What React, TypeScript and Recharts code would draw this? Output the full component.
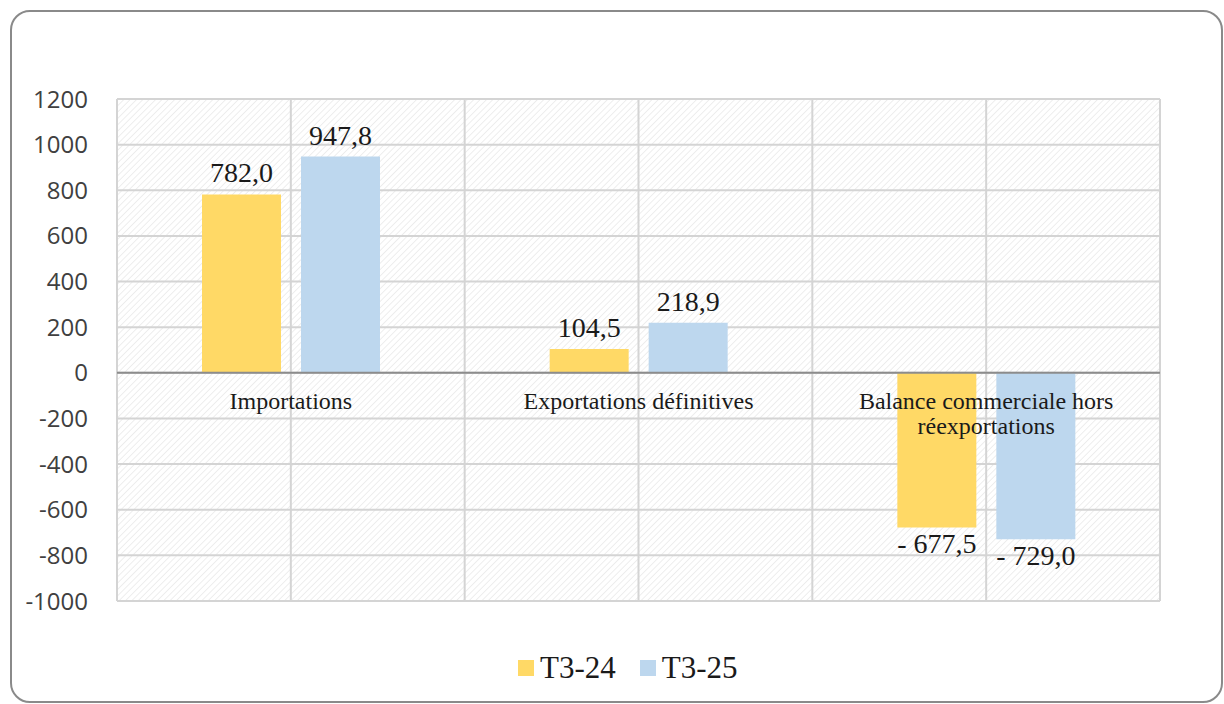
import { Bar, BarChart, CartesianGrid, LabelList, ReferenceLine, XAxis, YAxis } from "recharts";

const categories = ["Importations", "Exportations définitives", "Balance commerciale hors\nréexportations"];
const t324 = [782.0, 104.5, -677.5];
const t325 = [947.8, 218.9, -729.0];
const yTicks = [1200, 1000, 800, 600, 400, 200, 0, -200, -400, -600, -800, -1000];

const series = [
  { key: "t324", name: "T3-24", color: "#FFD966" },
  { key: "t325", name: "T3-25", color: "#BDD7EE" }
];

const data = categories.map((name, i) => ({ name, t324: t324[i], t325: t325[i] }));

const SERIF = "'Liberation Serif', 'Times New Roman', serif";

function fmt(v: number) {
  const s = Math.abs(v).toFixed(1).replace(".", ",");
  return v < 0 ? `- ${s}` : s;
}

function ValueLabel(props: any) {
  const { x, y, width, height, value } = props;
  const top = Math.min(y, y + height);
  const bottom = Math.max(y, y + height);
  const cx = x + width / 2;
  const ty = value < 0 ? bottom + 26 : top - 12;
  return (
    <text x={cx} y={ty} textAnchor="middle" fontFamily={SERIF} fontSize={28} fill="#1a1a1a">
      {fmt(value)}
    </text>
  );
}

function CategoryLabels(props: any) {
  const vb = props.viewBox || {};
  const band = vb.width / categories.length;
  return (
    <g>
      {categories.map((c, i) => (
        <text key={c} x={vb.x + band * (i + 0.5)} y={vb.y + 36} textAnchor="middle" fontFamily={SERIF} fontSize={24} fill="#1a1a1a">
          {c.split("\n").map((line, j) => (
            <tspan key={j} x={vb.x + band * (i + 0.5)} dy={j === 0 ? 0 : 25}>
              {line}
            </tspan>
          ))}
        </text>
      ))}
    </g>
  );
}

export default function App() {
  return (
    <div style={{ position: "fixed", left: 0, top: 0, width: 1224, height: 704, overflow: "hidden", background: "#fff" }}>
      <svg width={0} height={0} style={{ position: "absolute" }}>
        <defs>
          <pattern id="hatch" patternUnits="userSpaceOnUse" width={4.5} height={4.5} patternTransform="rotate(45)">
            <line x1={0} y1={0} x2={0} y2={4.5} stroke="#DCDCDC" strokeWidth={1} />
          </pattern>
        </defs>
      </svg>
      <div
        style={{
          position: "absolute",
          left: 10,
          top: 10,
          width: 1213,
          height: 693,
          border: "2px solid #8A8A8A",
          borderRadius: 20,
          boxSizing: "border-box"
        }}
      />
      <div style={{ position: "absolute", left: 0, top: 0 }}>
        <BarChart width={1224} height={704} data={data} margin={{ top: 99, right: 64, bottom: 103, left: 17 }} barSize={79} barGap={20}>
          <CartesianGrid
            fill="url(#hatch)"
            fillOpacity={1}
            stroke="#D4D4D4"
            strokeWidth={2}
            verticalCoordinatesGenerator={({ offset }: any) =>
              [0, 1, 2, 3, 4, 5, 6].map((i) => offset.left + (offset.width * i) / 6)
            }
          />
          <XAxis dataKey="name" hide />
          <YAxis
            width={100}
            domain={[-1000, 1200]}
            ticks={yTicks}
            interval={0}
            axisLine={false}
            tickLine={false}
            tickSize={0}
            tickMargin={29}
            tick={{ fontFamily: "'Open Sans', sans-serif", fontSize: 24, fill: "#404040" }}
          />
          {series.map((s) => (
            <Bar key={s.key} dataKey={s.key} name={s.name} fill={s.color} isAnimationActive={false}>
              <LabelList dataKey={s.key} content={ValueLabel} />
            </Bar>
          ))}
          <ReferenceLine y={0} stroke="#8C8C8C" strokeWidth={2} label={CategoryLabels} />
        </BarChart>
      </div>
      <div style={{ position: "absolute", left: 518, top: 650, display: "flex", alignItems: "center", fontFamily: SERIF, fontSize: 31, color: "#1a1a1a" }}>
        {series.map((s, i) => (
          <div key={s.key} style={{ display: "flex", alignItems: "center", marginLeft: i === 0 ? 0 : 24 }}>
            <span style={{ display: "inline-block", width: 16, height: 16, background: s.color, marginRight: 6 }} />
            <span>{s.name}</span>
          </div>
        ))}
      </div>
    </div>
  );
}
